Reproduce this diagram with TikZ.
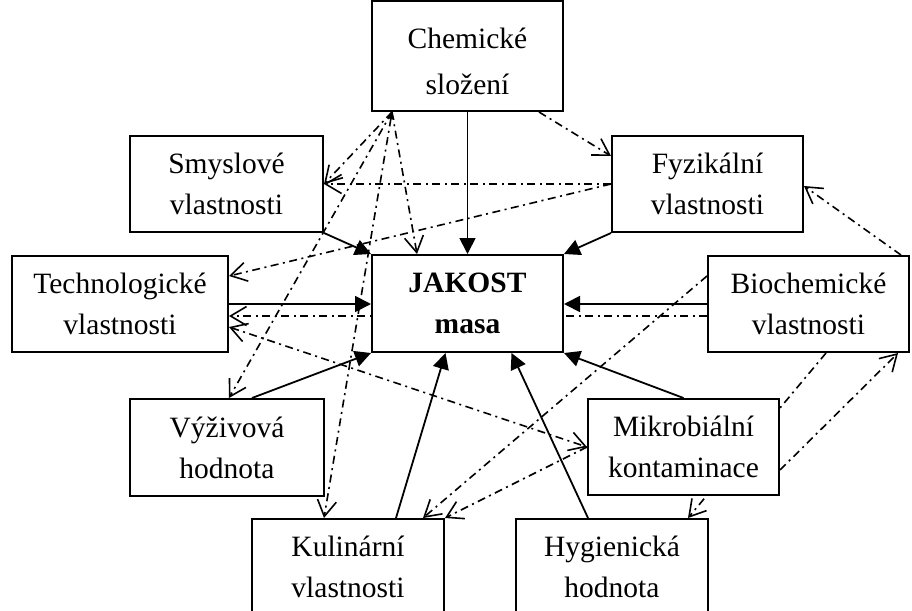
\documentclass[tikz,border=0pt]{standalone}
\usepackage{fontspec}
\setmainfont{Liberation Serif}
\usetikzlibrary{arrows.meta,calc,positioning}
\pgfdeclarelayer{background}
\pgfsetlayers{background,main}

\begin{document}
\begin{tikzpicture}[x=1pt,y=-1pt,
    box/.style={draw,line width=2pt,fill=white,inner sep=0pt,align=center,
        minimum width=191pt,minimum height=96pt,font=\fontsize{29.5}{41}\selectfont},
    vliv/.style={line width=1.8pt,-{Triangle[length=16pt,width=16pt]}},
    vazba/.style={line width=1.6pt,dash pattern=on 8pt off 4.5pt on 2pt off 4.5pt,
        >={Straight Barb[length=16pt,width=19pt]},->}]
    \useasboundingbox (0,0) rectangle (912,610);
    % bloky
    \node[box,minimum height=110pt](chem)at(467.5,56){};
    \node[align=center,inner sep=0pt,font=\fontsize{29.5}{46}\selectfont](chemtxt)
        at($(chem.center)+(0,5)$){Chemické\\složení};
    \node[box,minimum width=193pt](smysl)at(226.5,184){Smyslové\\vlastnosti};
    \node[box](fyz)at(707.5,184){Fyzikální\\vlastnosti};
    \node[box,minimum width=216pt](tech)at(120,304){Technologické\\vlastnosti};
    \node[box,minimum height=97pt](jakost)at(467.5,303.5){\textbf{JAKOST}\\\textbf{masa}};
    \node[box,minimum width=201pt](bioch)at(808.5,304){Biochemické\\vlastnosti};
    \node[box,minimum width=194pt,minimum height=97pt](vyziv)at(227,447.5){Výživová\\hodnota};
    \node[box](mikro)at(683.5,447){Mikrobiální\\kontaminace};
    \node[box,minimum width=192pt](kulin)at(348,567){Kulinární\\vlastnosti};
    \node[box,minimum width=192pt](hyg)at(612,567){Hygienická\\hodnota};
    \coordinate (cs) at ($(chem.south west)+(21,0)$);
    \begin{pgfonlayer}{background}
    % prime vlivy na jakost
    \draw[vliv] (chem.south)--(jakost.north);
    \draw[vliv] (smysl.south east)--(jakost.north west);
    \draw[vliv] (fyz.south west)--(jakost.north east);
    \draw[vliv] (tech.east)--(tech.east-|jakost.west);
    \draw[vliv] (bioch.west)--(bioch.west-|jakost.east);
    \draw[vliv] ($(vyziv.north)+(25,0)$)--(jakost.south west);
    \draw[vliv] (mikro.north)--(jakost.south east);
    \draw[vliv] ($(kulin.north)+(48,0)$)--($(jakost.south)+(-22,0)$);
    \draw[vliv] ($(hyg.north)+(-24,0)$)--($(jakost.south)+(44,0)$);
    % vzajemne vazby
    \draw[vazba] (cs)--(smysl.east);
    \draw[vazba] (cs)--($(vyziv.north west)+(100,0)$);
    \draw[vazba] (cs)--($(jakost.north west)+(46,0)$);
    \draw[vazba,{Triangle[length=7pt,width=7pt]}->] (cs)--($(kulin.north west)+(73,0)$);
    \draw[vazba] ($(chem.south east)+(-25,0)$)--($(fyz.north west)+(0,21)$);
    \draw[vazba] (fyz.west)--(smysl.east);
    \draw[vazba] (fyz.west)--($(tech.north east)+(0,21)$);
    \draw[vazba] ($(bioch.west)+(0,12)$)--($(tech.east)+(0,12)$);
    \draw[vazba,<->] ($(tech.east)+(0,23)$)--(mikro.west);
    \draw[vazba] (mikro.west)--(kulin.north east);
    \draw[vazba] ($(bioch.west)+(0,-28)$)--($(kulin.north east)+(-22,0)$);
    \draw[vazba] ($(bioch.south west)+(119,0)$)--($(hyg.north east)+(-21,0)$);
    \draw[vazba] ($(mikro.east)+(0,23)$)--($(bioch.south east)+(-12,0)$);
    \draw[vazba] ($(bioch.north east)+(-9,0)$)--($(fyz.east)+(0,2)$);
    \end{pgfonlayer}
\end{tikzpicture}
\end{document}
